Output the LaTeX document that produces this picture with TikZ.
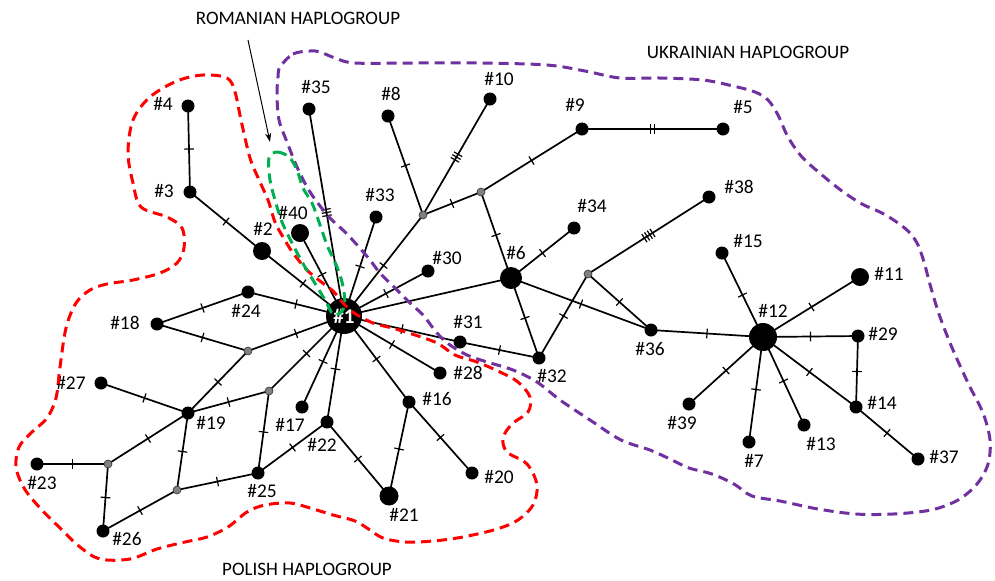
\documentclass[tikz,border=0pt]{standalone}
\usepackage{fontspec}
\setmainfont{Carlito}
\usetikzlibrary{decorations.markings,backgrounds,arrows.meta}
\definecolor{hred}{HTML}{FF0000}
\definecolor{hgreen}{HTML}{00B050}
\definecolor{hpurple}{HTML}{7030A0}
\tikzset{
  hap/.style={circle, fill=black, inner sep=0pt, minimum size=#1},
  hap/.default=6.5pt,
  mv/.style={circle, fill=black!50, draw=black!80, line width=0.3pt, inner sep=0pt, minimum size=4pt},
  lab/.style={font=\fontsize{9.7}{11}\selectfont, inner sep=0pt},
  lnk/.style={line width=0.85pt},
  tkl/.style={line width=0.6pt},
  tka/.style={postaction={decorate,decoration={markings,mark=at position 0.5 with {\draw[tkl] (0,-2.4pt)--(0,2.4pt);}}}},
  tkb/.style={postaction={decorate,decoration={markings,mark=at position 0.5 with {\draw[tkl] (-0.9pt,-2.4pt)--(-0.9pt,2.4pt) (0.9pt,-2.4pt)--(0.9pt,2.4pt);}}}},
  tkc/.style={postaction={decorate,decoration={markings,mark=at position 0.5 with {\draw[tkl] (-1.6pt,-2.4pt)--(-1.6pt,2.4pt) (0,-2.4pt)--(0,2.4pt) (1.6pt,-2.4pt)--(1.6pt,2.4pt);}}}},
  tkd/.style={postaction={decorate,decoration={markings,mark=at position 0.5 with {\draw[tkl] (-2.4pt,-2.4pt)--(-2.4pt,2.4pt) (-0.8pt,-2.4pt)--(-0.8pt,2.4pt) (0.8pt,-2.4pt)--(0.8pt,2.4pt) (2.4pt,-2.4pt)--(2.4pt,2.4pt);}}}},
  hull/.style={line width=1.5pt, dash pattern=on 5pt off 3pt},
  title/.style={font=\fontsize{9.5}{11}\selectfont, inner sep=0pt}
}
\begin{document}
\begin{tikzpicture}[x=0.5pt,y=-0.5pt]
\useasboundingbox (0,0) rectangle (995,580);
% haplotype nodes
\node[hap=18pt, font=\fontsize{10.5}{12}\selectfont\bfseries, text=white] (n1) at (344,316) {\#1};
\node[hap=9pt] (n2) at (262,251) {};
\node[hap] (n3) at (190,192) {};
\node[hap] (n4) at (188,106) {};
\node[hap] (n5) at (723,129) {};
\node[hap=11pt] (n6) at (511,278) {};
\node[hap] (n7) at (749,442) {};
\node[hap] (n8) at (388,116) {};
\node[hap] (n9) at (582,129) {};
\node[hap] (n10) at (490,99) {};
\node[hap=9pt] (n11) at (860,277) {};
\node[hap=14pt] (n12) at (763,337) {};
\node[hap] (n13) at (804,425) {};
\node[hap] (n14) at (856,407) {};
\node[hap] (n15) at (722,253) {};
\node[hap] (n16) at (409,402) {};
\node[hap] (n17) at (302,407) {};
\node[hap] (n18) at (157,324) {};
\node[hap] (n19) at (188,413) {};
\node[hap] (n20) at (472,473) {};
\node[hap=9.5pt] (n21) at (389,496) {};
\node[hap] (n22) at (327,422) {};
\node[hap] (n23) at (37,464) {};
\node[hap] (n24) at (248,292) {};
\node[hap] (n25) at (258,473) {};
\node[hap] (n26) at (103,531) {};
\node[hap] (n27) at (101,383) {};
\node[hap] (n28) at (440,373) {};
\node[hap] (n29) at (858,336) {};
\node[hap] (n30) at (428,271) {};
\node[hap] (n31) at (460,342) {};
\node[hap] (n32) at (539,358) {};
\node[hap] (n33) at (376,217) {};
\node[hap] (n34) at (574,228) {};
\node[hap] (n35) at (309,109) {};
\node[hap] (n36) at (651,330) {};
\node[hap] (n37) at (918,459) {};
\node[hap] (n38) at (709,197) {};
\node[hap] (n39) at (689,404) {};
\node[hap=9pt] (n40) at (300,233) {};
% median vectors
\node[mv] (g1) at (423,215) {};
\node[mv] (g2) at (481,192) {};
\node[mv] (g3) at (588,274) {};
\node[mv] (g4) at (248,351) {};
\node[mv] (g5) at (269,391) {};
\node[mv] (g6) at (108,464) {};
\node[mv] (g7) at (177,490) {};
% labels
\node[lab] (l2) at (263,229) {\#2};
\node[lab] (l3) at (164,191) {\#3};
\node[lab] (l4) at (163,104) {\#4};
\node[lab] (l5) at (743,107) {\#5};
\node[lab] (l6) at (516,253) {\#6};
\node[lab] (l7) at (754,461) {\#7};
\node[lab] (l8) at (391,94) {\#8};
\node[lab] (l9) at (575,105) {\#9};
\node[lab] (l10) at (499,79) {\#10};
\node[lab] (l11) at (889,274) {\#11};
\node[lab] (l12) at (773,311) {\#12};
\node[lab] (l13) at (821,444) {\#13};
\node[lab] (l14) at (882,403) {\#14};
\node[lab] (l15) at (748,241) {\#15};
\node[lab] (l16) at (437,399) {\#16};
\node[lab] (l17) at (290,425) {\#17};
\node[lab] (l18) at (125,323) {\#18};
\node[lab] (l19) at (211,423) {\#19};
\node[lab] (l20) at (499,477) {\#20};
\node[lab] (l21) at (404,515) {\#21};
\node[lab] (l22) at (322,445) {\#22};
\node[lab] (l23) at (42,483) {\#23};
\node[lab] (l24) at (246,311) {\#24};
\node[lab] (l25) at (262,491) {\#25};
\node[lab] (l26) at (127,539) {\#26};
\node[lab] (l27) at (71,383) {\#27};
\node[lab] (l28) at (468,373) {\#28};
\node[lab] (l29) at (883,334) {\#29};
\node[lab] (l30) at (447,258) {\#30};
\node[lab] (l31) at (468,322) {\#31};
\node[lab] (l32) at (552,376) {\#32};
\node[lab] (l33) at (380,195) {\#33};
\node[lab] (l34) at (592,206) {\#34};
\node[lab] (l35) at (316,87) {\#35};
\node[lab] (l36) at (650,349) {\#36};
\node[lab] (l37) at (944,457) {\#37};
\node[lab] (l38) at (739,187) {\#38};
\node[lab] (l39) at (682,423) {\#39};
\node[lab] (l40) at (293,213) {\#40};
% titles
\node[title] (tR) at (298,18) {ROMANIAN HAPLOGROUP};
\node[title] (tU) at (748,52) {UKRAINIAN HAPLOGROUP};
\node[title] (tP) at (307,569) {POLISH HAPLOGROUP};
% edges
\begin{scope}[on background layer]
\draw[lnk,tka] (n1.center)--(n2.center);
\draw[lnk,tka] (n2.center)--(n3.center);
\draw[lnk,tka] (n3.center)--(n4.center);
\draw[lnk,tka] (n1.center)--(n40.center);
\draw[lnk,tkc] (n1.center)--(n35.center);
\draw[lnk,tka] (n1.center)--(n33.center);
\draw[lnk,tka] (n1.center)--(g1.center);
\draw[lnk,tka] (g1.center)--(n8.center);
\draw[lnk,tkc] (g1.center)--(n10.center);
\draw[lnk,tka] (g1.center)--(g2.center);
\draw[lnk,tka] (g2.center)--(n9.center);
\draw[lnk,tkb] (n9.center)--(n5.center);
\draw[lnk,tka] (g2.center)--(n6.center);
\draw[lnk,tka] (n1.center)--(n30.center);
\draw[lnk] (n1.center)--(n6.center);
\draw[lnk,tka] (n6.center)--(n34.center);
\draw[lnk,tka] (n6.center)--(n32.center);
\draw[lnk,tka] (n6.center)--(n36.center);
\draw[lnk,tka] (g3.center)--(n36.center);
\draw[lnk,tkd] (g3.center)--(n38.center);
\draw[lnk,tka] (g3.center)--(n32.center);
\draw[lnk,tka] (n1.center)--(n31.center);
\draw[lnk,tka] (n31.center)--(n32.center);
\draw[lnk,tka] (n1.center)--(n28.center);
\draw[lnk,tka] (n1.center)--(n16.center);
\draw[lnk,tka] (n16.center)--(n20.center);
\draw[lnk,tka] (n16.center)--(n21.center);
\draw[lnk,tka] (n1.center)--(n22.center);
\draw[lnk,tka] (n22.center)--(n21.center);
\draw[lnk,tka] (n22.center)--(n25.center);
\draw[lnk,tka] (n1.center)--(n17.center);
\draw[lnk,tka] (n1.center)--(g5.center);
\draw[lnk,tka] (g5.center)--(n19.center);
\draw[lnk,tka] (g5.center)--(n25.center);
\draw[lnk,tka] (n1.center)--(g4.center);
\draw[lnk,tka] (g4.center)--(n18.center);
\draw[lnk,tka] (g4.center)--(n19.center);
\draw[lnk,tka] (n1.center)--(n24.center);
\draw[lnk,tka] (n24.center)--(n18.center);
\draw[lnk,tka] (n27.center)--(n19.center);
\draw[lnk,tka] (n19.center)--(g6.center);
\draw[lnk,tka] (n19.center)--(g7.center);
\draw[lnk,tka] (g6.center)--(n23.center);
\draw[lnk,tka] (g6.center)--(n26.center);
\draw[lnk,tka] (n26.center)--(g7.center);
\draw[lnk,tka] (g7.center)--(n25.center);
\draw[lnk,tka] (n36.center)--(n12.center);
\draw[lnk,tka] (n12.center)--(n15.center);
\draw[lnk,tka] (n12.center)--(n11.center);
\draw[lnk,tka] (n12.center)--(n29.center);
\draw[lnk,tka] (n12.center)--(n14.center);
\draw[lnk,tka] (n12.center)--(n13.center);
\draw[lnk,tka] (n12.center)--(n7.center);
\draw[lnk,tka] (n12.center)--(n39.center);
\draw[lnk,tka] (n29.center)--(n14.center);
\draw[lnk,tka] (n14.center)--(n37.center);
\end{scope}
% pointer arrow
\coordinate (aS) at (248,40);
\coordinate (aE) at (270,142);
\draw[line width=0.5pt, -{Stealth[length=4.5pt,width=3pt]}] (aS) -- (aE);
% haplogroup outlines
\draw[hull, hpurple] plot[smooth cycle, tension=0.55] coordinates {
(280,67) (293,54) (310,51) (320,52) (335,58) (355,63) (413,63) (480,63) (547,65) (585,71) (620,78) (660,78) (703,80) (733,86) (755,92) (768,100) (778,115) (788,137) (802,157) (822,175) (842,191) (862,204) (882,213) (898,223) (910,233) (918,245) (924,262) (931,288) (940,317) (953,350) (969,385) (983,413) (990,440) (988,464) (977,484) (958,500) (931,510) (893,514) (856,514) (818,509) (780,501) (752,496) (734,484) (712,474) (689,468) (672,460) (650,450) (621,440) (590,420) (560,400) (537,382) (513,370) (487,362) (467,355) (450,345) (437,333) (423,315) (410,303) (397,290) (380,273) (370,260) (358,246) (345,232) (330,218) (317,202) (307,187) (297,167) (287,142) (279,120) (277,95) (278,77)};
\draw[hull, hred] plot[smooth cycle, tension=0.55] coordinates {
(203,75) (227,78) (235,92) (241,120) (250,158) (260,182) (268,200) (275,222) (283,237) (293,253) (307,270) (320,281) (333,291) (343,303) (354,313) (373,323) (392,328) (412,334) (437,343) (455,355) (477,362) (500,372) (518,382) (530,397) (528,412) (512,424) (503,438) (507,452) (527,464) (537,485) (533,505) (518,520) (497,529) (463,537) (433,541) (405,542) (383,538) (370,530) (355,521) (333,515) (310,508) (290,503) (265,505) (247,512) (228,527) (207,537) (185,542) (157,549) (130,559) (100,559) (80,547) (60,528) (40,508) (24,488) (16,467) (19,447) (31,433) (47,418) (56,398) (60,367) (66,328) (76,303) (90,290) (107,284) (133,280) (160,273) (177,263) (184,248) (182,228) (167,217) (141,207) (133,183) (128,153) (133,120) (150,97) (177,81)};
\draw[hull, hgreen] plot[smooth cycle, tension=0.55] coordinates {
(269,158) (277,152) (289,157) (297,170) (303,188) (312,203) (319,222) (327,245) (334,260) (340,275) (344,292) (344,308) (334,315) (325,300) (316,285) (305,267) (293,245) (282,222) (275,200) (270,180)};
\end{tikzpicture}
\end{document}
